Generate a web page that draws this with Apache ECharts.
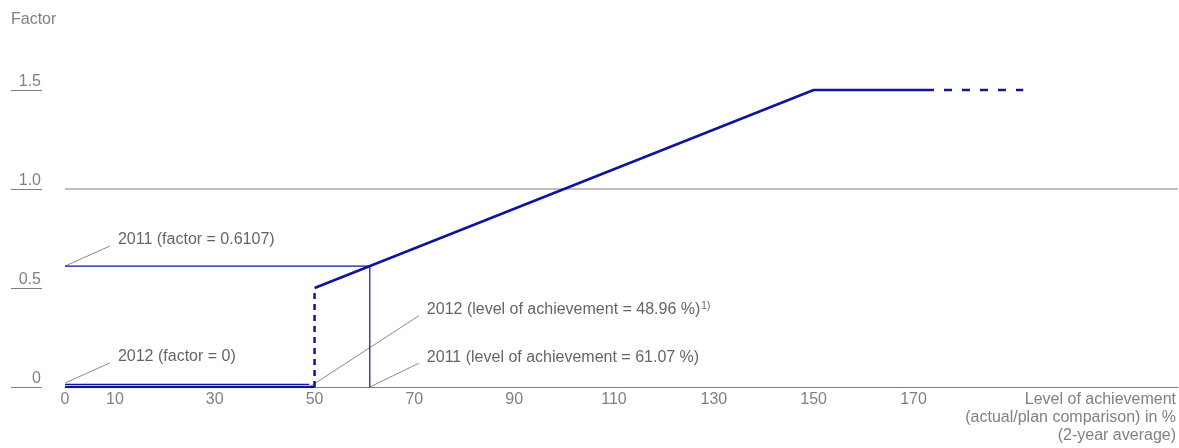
<!DOCTYPE html>
<html>
<head>
<meta charset="utf-8">
<script src="https://cdn.jsdelivr.net/npm/echarts@6/dist/echarts.min.js"></script>
<style>
html,body{margin:0;padding:0;background:#fff;}
#chart{width:1179px;height:448px;}
</style>
</head>
<body>
<div id="chart"></div>
<script>
// ---- data ----
const xTicks = [0, 10, 30, 50, 70, 90, 110, 130, 150, 170];
const yTicks = [0, 0.5, 1.0, 1.5];
const yTickLabels = ['0', '0.5', '1.0', '1.5'];
const yInterval = 0.5;
const xMax = 223;
const yMax = 1.75;
const yTickMax = 1.5;

const curveFlat = [[0, 0], [50, 0]];
const curveJump = [[50, 0], [50, 0.5]];
const curveRise = [[50, 0.5], [150, 1.5], [172.5, 1.5]];
const curveCont = [[172.5, 1.5], [192, 1.5]];

const line2011 = [[0, 0.6107], [61.07, 0.6107], [61.07, 0]];
const line2012 = [[0, 0.013], [48.96, 0.013]];
const refLine = [[0, 1.0], [xMax, 1.0]];

const annoText = [
  '2011 (factor = 0.6107)',
  '2012 (factor = 0)',
  '2012 (level of achievement = 48.96 %){sup|1)}',
  '2011 (level of achievement = 61.07 %)'
];
const annoFrom = [[0, 0.6107], [0, 0.02], [48.96, 0], [61.07, 0]];
const annoTo = [[9.0, 0.712], [9.0, 0.122], [70.9, 0.360], [70.9, 0.120]];

const xName = 'Level of achievement\n(actual/plan comparison) in %\n(2-year average)';
const yName = 'Factor';

// ---- styles ----
const BLUE = '#0d149e';
const GRAY = '#808080';
const TXT = '#3c3c3c';
const FONT = 'Liberation Sans, Arial, sans-serif';

// layout: zero line at y=387, 198 px per factor unit
const ZERO_Y = 387;
const PX_PER_UNIT = 198;
const mainTop = ZERO_Y - PX_PER_UNIT * yMax;
const tickTop = ZERO_Y - PX_PER_UNIT * yTickMax;

function seg(data, width, type, color) {
  return {
    type: 'line', data: data, symbol: 'none', silent: true,
    xAxisIndex: 0, yAxisIndex: 0,
    lineStyle: { color: color, width: width, type: type },
    z: 3
  };
}

const series = [];
series.push(seg(refLine, 1, 'solid', GRAY));
annoFrom.forEach(function (p, i) {
  const s = seg([p, annoTo[i]], 1, 'solid', '#8a8a8a');
  s.z = 2;
  series.push(s);
});
series.push(seg(line2011, 1.2, 'solid', BLUE));
series.push(seg(line2012, 1.2, 'solid', BLUE));
series.push(seg(curveFlat, 2.5, 'solid', BLUE));
series.push(seg(curveJump, 2.5, [6, 5], BLUE));
series.push(seg(curveRise, 2.5, 'solid', BLUE));
series.push(seg(curveCont, 2.5, [8, 10], BLUE));

series.push({
  type: 'scatter', symbolSize: 0, silent: true, z: 5,
  xAxisIndex: 0, yAxisIndex: 0,
  data: annoTo.map(function (p, i) {
    return { value: p, name: annoText[i] };
  }),
  label: {
    show: true, position: 'right', distance: 8, offset: [0, -6],
    formatter: function (p) { return p.name; },
    color: TXT, fontSize: 16, fontFamily: FONT,
    rich: {
      sup: { fontSize: 10, color: TXT, fontFamily: FONT, verticalAlign: 'top', lineHeight: 10, padding: [0, 0, 6, 1] }
    }
  }
});

const chart = echarts.init(document.getElementById('chart'), null, { renderer: 'canvas' });
chart.setOption({
  animation: false,
  backgroundColor: '#fff',
  title: {
    text: yName, left: 11, top: 12, padding: 0,
    textStyle: { color: GRAY, fontSize: 16, fontWeight: 'normal', fontFamily: FONT }
  },
  grid: [
    { left: 65, right: 0, top: mainTop, bottom: 448 - ZERO_Y, containLabel: false },
    { left: 11, width: 31, top: tickTop, bottom: 448 - ZERO_Y, containLabel: false }
  ],
  xAxis: [{
    gridIndex: 0, type: 'value', min: 0, max: xMax,
    name: xName, nameLocation: 'end', nameGap: -2,
    nameTextStyle: { color: GRAY, fontSize: 16, fontFamily: FONT, align: 'right', verticalAlign: 'top', lineHeight: 18, padding: [4, 0, 0, 0] },
    axisLine: { show: true, lineStyle: { color: GRAY, width: 1 } },
    axisTick: { show: false },
    splitLine: { show: false },
    axisLabel: {
      customValues: xTicks, margin: 5,
      color: GRAY, fontSize: 16, fontFamily: FONT
    }
  }, {
    gridIndex: 1, type: 'value', min: 0, max: 1, show: false
  }],
  yAxis: [{
    gridIndex: 0, type: 'value', min: 0, max: yMax, show: false
  }, {
    gridIndex: 1, type: 'value', min: 0, max: yTickMax, interval: yInterval,
    position: 'right',
    axisLine: { show: false },
    axisTick: { show: false },
    splitLine: { show: true, lineStyle: { color: GRAY, width: 1 } },
    axisLabel: {
      inside: true, margin: 1, verticalAlign: 'bottom',
      color: GRAY, fontSize: 16, fontFamily: FONT,
      formatter: function (v) {
        const i = yTicks.indexOf(v);
        return i >= 0 ? yTickLabels[i] : '';
      }
    }
  }],
  series: series
});
</script>
</body>
</html>
